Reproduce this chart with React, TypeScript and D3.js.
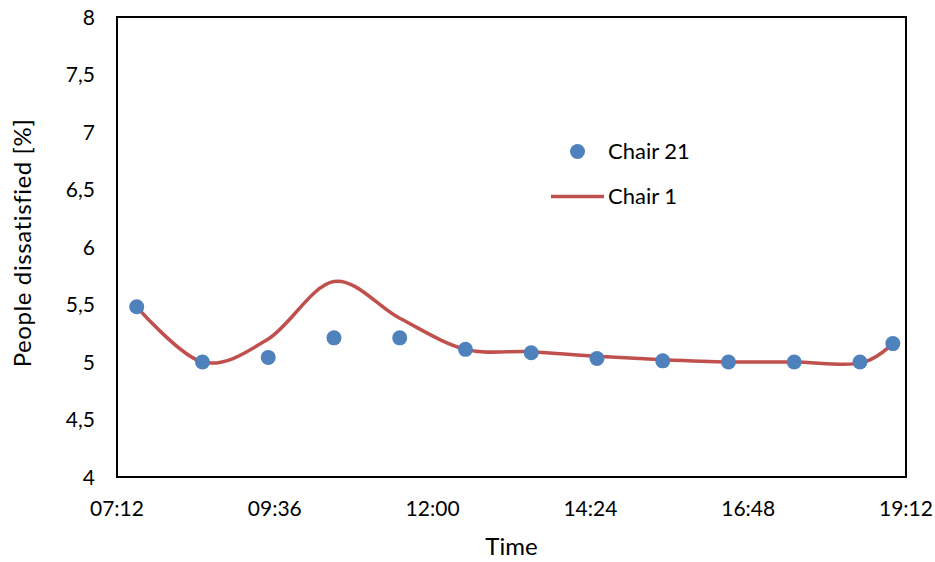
import React from "react";
import * as d3 from "d3";

const times = ["07:30", "08:30", "09:30", "10:30", "11:30", "12:30", "13:30", "14:30", "15:30", "16:30", "17:30", "18:30", "19:00"];
const chair21 = [5.48, 5.0, 5.04, 5.21, 5.21, 5.11, 5.08, 5.03, 5.01, 5.0, 5.0, 5.0, 5.16];
const chair1 = [5.48, 5.0, 5.2, 5.7, 5.38, 5.11, 5.09, 5.05, 5.02, 5.0, 5.0, 4.99, 5.16];
const xTickLabels = ["07:12", "09:36", "12:00", "14:24", "16:48", "19:12"];
const yTicks = [4, 4.5, 5, 5.5, 6, 6.5, 7, 7.5, 8];

const toHours = (s: string) => {
  const [h, m] = s.split(":").map(Number);
  return h + m / 60;
};

const W = 935;
const H = 562;
const left = 117;
const right = 906;
const top = 17;
const bottom = 477;
const FONT = "Lato, 'Open Sans', sans-serif";

export default function App() {
  const x = d3.scaleLinear().domain([7.2, 19.2]).range([left, right]);
  const y = d3.scaleLinear().domain([4, 8]).range([bottom, top]);

  const lineData = times.map((t, i) => [toHours(t), chair1[i]] as [number, number]);
  const line = d3
    .line<[number, number]>()
    .x((d) => x(d[0]))
    .y((d) => y(d[1]))
    .curve(d3.curveCardinal.tension(0));

  const fmtY = (v: number) => String(v).replace(".", ",");

  return (
    <svg width={W} height={H} style={{ position: "absolute", left: 0, top: 0, background: "#fff" }} fontFamily={FONT}>
      <rect x={0} y={0} width={W} height={H} fill="#fff" />
      <path d={line(lineData) || ""} fill="none" stroke="#C0504D" strokeWidth={3.5} />
      {times.map((t, i) => (
        <circle key={t} cx={x(toHours(t))} cy={y(chair21[i])} r={7.5} fill="#4F81BD" />
      ))}
      <rect x={left} y={top} width={right - left} height={bottom - top} fill="none" stroke="#000" strokeWidth={2} />
      {yTicks.map((v) => (
        <text key={v} x={95} y={y(v)} dy="0.36em" textAnchor="end" fontSize={21} fill="#000">
          {fmtY(v)}
        </text>
      ))}
      {xTickLabels.map((lab) => (
        <text key={lab} x={x(toHours(lab))} y={516} textAnchor="middle" fontSize={21} fill="#000">
          {lab}
        </text>
      ))}
      <text x={x(13.2)} y={555} textAnchor="middle" fontSize={24} fill="#000">
        Time
      </text>
      <text
        transform={`translate(31, 243) rotate(-90)`}
        textAnchor="middle"
        fontSize={24}
        letterSpacing={0.6}
        fill="#000"
      >
        People dissatisfied [%]
      </text>
      <circle cx={577.5} cy={151.5} r={7.5} fill="#4F81BD" />
      <text x={608} y={159} fontSize={22} fill="#000">
        Chair 21
      </text>
      <line x1={551} x2={604} y1={196.5} y2={196.5} stroke="#C0504D" strokeWidth={3.5} />
      <text x={608} y={204} fontSize={22} fill="#000">
        Chair 1
      </text>
    </svg>
  );
}
